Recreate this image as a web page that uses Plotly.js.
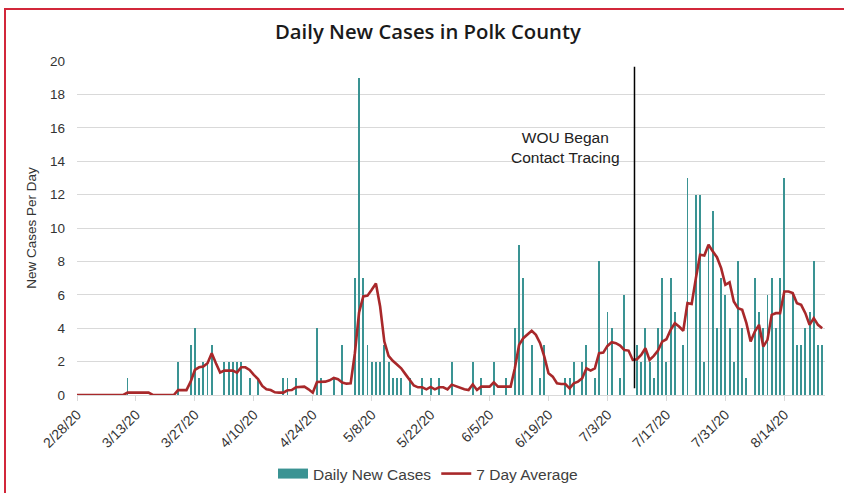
<!DOCTYPE html>
<html>
<head>
<meta charset="utf-8">
<script src="https://cdn.plot.ly/plotly-3.0.1.min.js"></script>
<style>
  html, body { margin: 0; padding: 0; background: #ffffff; }
  #wrap { position: relative; width: 844px; height: 493px; overflow: hidden; }
  #chart { position: absolute; left: 0; top: 0; width: 844px; height: 493px; }
  #frame { position: absolute; left: 4px; top: 8px; width: 860px; height: 500px;
           border-top: 2px solid #d2273a; border-left: 2px solid #d2273a; pointer-events: none; }
</style>
</head>
<body>
<div id="wrap">
  <div id="chart"></div>
  <div id="frame"></div>
</div>
<script>
// ---- data (one value per day, starting 2/28/20) ----
const startDate = '2020-02-28';
const dailyNewCases = [
  0,0,0,0,0,0,0,0,0,0,0,0,1,0,
  0,0,0,0,0,0,0,0,0,0,2,0,0,3,
  4,1,2,2,3,0,0,2,2,2,2,2,0,1,
  0,1,0,0,0,0,0,1,1,0,1,0,0,0,
  0,4,1,0,0,1,0,3,0,0,7,19,7,3,
  2,2,2,3,2,1,1,1,0,1,0,0,1,0,
  1,0,1,0,0,2,0,0,0,0,2,0,1,0,
  0,2,0,0,1,0,4,9,7,0,3,0,1,3,
  0,0,0,0,1,1,2,0,2,3,0,1,8,0,
  5,4,0,1,6,0,0,3,2,4,2,1,4,7,
  2,7,5,0,3,13,0,12,12,2,9,11,4,7,
  6,4,2,8,4,1,0,7,5,4,6,7,4,7,
  13,0,6,3,3,4,5,8,3,3
];
const sevenDayAverage = [
  0,0,0,0,0,0,0,0,0,0,0,0,0.14,0.14,
  0.14,0.14,0.14,0.14,0,0,0,0,0,0,0.29,0.29,0.29,0.8,
  1.5,1.66,1.7,1.9,2.5,1.9,1.35,1.46,1.46,1.46,1.34,1.66,1.66,1.5,
  1.2,0.96,0.54,0.34,0.3,0.16,0.14,0.14,0.28,0.3,0.46,0.5,0.5,0.34,
  0.14,0.78,0.8,0.8,0.88,1.02,0.95,0.75,0.68,0.7,2.5,4.95,5.9,5.95,
  6.3,6.68,5.3,3.2,2.35,2.05,1.83,1.6,1.25,0.87,0.57,0.46,0.46,0.34,
  0.48,0.34,0.46,0.46,0.34,0.62,0.52,0.44,0.34,0.3,0.64,0.3,0.5,0.5,
  0.5,0.76,0.5,0.5,0.5,0.5,1.6,3.0,3.4,3.6,3.84,3.6,3.1,2.3,
  1.3,1.1,0.7,0.66,0.66,0.4,0.7,0.8,1.0,1.6,1.46,1.6,2.5,2.54,
  2.94,3.16,3.1,2.96,2.7,2.66,2.1,2.14,2.4,2.8,2.1,2.34,2.66,3.2,
  3.34,3.9,4.3,4.1,3.85,5.5,5.45,7.0,8.4,8.35,9.0,8.6,8.25,7.6,
  6.6,6.75,5.6,5.2,5.1,4.3,3.2,3.8,4.2,2.9,3.3,4.8,4.9,4.9,
  6.2,6.2,6.1,5.5,5.4,4.9,4.2,4.6,4.2,4.0
];
const tickLabels = ['2/28/20','3/13/20','3/27/20','4/10/20','4/24/20','5/8/20','5/22/20',
                    '6/5/20','6/19/20','7/3/20','7/17/20','7/31/20','8/14/20'];
const tickStepDays = 14;
const tracingDate = '2020-07-09 10:00';
const tracingLabel = 'WOU Began<br>Contact Tracing';

// ---- derived category dates ----
function dayString(i) {
  const p = startDate.split('-').map(Number);
  const d = new Date(Date.UTC(p[0], p[1] - 1, p[2] + i));
  return d.toISOString().slice(0, 10);
}
const dates = dailyNewCases.map((_, i) => dayString(i));
const tickVals = tickLabels.map((_, i) => dates[i * tickStepDays]);
const DAY = 86400000;
const TEAL = '#3a9393';

const bars = {
  type: 'bar', name: 'Daily New Cases', x: dates, y: dailyNewCases,
  width: dates.map(() => 0.45 * DAY), showlegend: false,
  marker: { color: TEAL, line: { width: 0 } }, hoverinfo: 'x+y'
};
// legend swatch only (wide rectangle like the original legend key)
const barsKey = {
  type: 'scatter', mode: 'lines', name: 'Daily New Cases', x: [null], y: [null],
  line: { color: TEAL, width: 12 }, showlegend: true, hoverinfo: 'skip'
};
const avg = {
  type: 'scatter', mode: 'lines', name: '7 Day Average', x: dates, y: sevenDayAverage,
  line: { color: '#a8282a', width: 2.6 }
};

const layout = {
  width: 844, height: 493,
  margin: { l: 77, r: 19, t: 61, b: 98 },
  paper_bgcolor: '#ffffff', plot_bgcolor: '#ffffff',
  font: { family: 'Liberation Sans, Arial, sans-serif', color: '#333333' },
  title: { text: 'Daily New Cases in Polk County', x: 0.507, xanchor: 'center',
           y: 0.935, yanchor: 'middle', yref: 'container', xref: 'container',
           font: { family: 'Open Sans, sans-serif', size: 20.3, weight: 600, color: '#1a1a1a' } },
  showlegend: true,
  legend: { orientation: 'h', xref: 'container', yref: 'container',
            x: 428 / 844, xanchor: 'center', y: 1 - 474 / 493, yanchor: 'middle',
            font: { size: 15.5, color: '#404040' }, traceorder: 'normal', itemwidth: 30 },
  bargap: 0,
  xaxis: {
    type: 'date', range: [startDate, '2020-08-23 16:00'], automargin: false,
    tickmode: 'array', tickvals: tickVals, ticktext: tickLabels, tickangle: -45,
    tickfont: { size: 14, color: '#333333' },
    showgrid: false, showline: true, linecolor: '#d9d9d9', linewidth: 1,
    ticks: 'outside', ticklen: 5, tickcolor: '#d9d9d9', zeroline: false
  },
  yaxis: {
    range: [0, 20], dtick: 2, tick0: 0, automargin: false,
    showgrid: true, gridcolor: '#d9d9d9', gridwidth: 1,
    zeroline: false, showline: false, ticks: '', ticklabelstandoff: 11,
    tickfont: { size: 13.5, color: '#333333' },
    title: { text: 'New Cases Per Day', standoff: 10, font: { size: 13.5, color: '#333333' } }
  },
  shapes: [{
    type: 'line', xref: 'x', yref: 'y', x0: tracingDate, x1: tracingDate, y0: 0.4, y1: 19.66,
    line: { color: '#000000', width: 1.5 }
  }],
  annotations: [{
    xref: 'paper', yref: 'paper', x: (565 - 77) / 748, y: (395 - 147) / 334,
    xanchor: 'center', yanchor: 'middle', showarrow: false, align: 'center',
    text: tracingLabel, font: { size: 15.5, color: '#222222' }
  }]
};

Plotly.newPlot('chart', [bars, barsKey, avg], layout, { displayModeBar: false, staticPlot: true });
</script>
</body>
</html>
